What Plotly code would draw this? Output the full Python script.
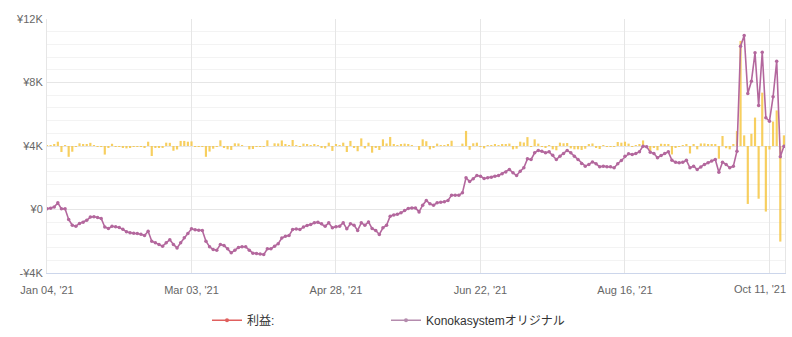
import plotly.graph_objects as go

# Cumulative profit (yen), one value per trading day
cumulative = [
    50, 80, 150, 420, 40, 50, -630, -990, -1050, -880,
    -800, -680, -480, -460, -500, -560, -1100, -1200, -1060, -1090,
    -1130, -1250, -1400, -1470, -1500, -1510, -1560, -1640, -1370, -2000,
    -2100, -2200, -2310, -2100, -1900, -2200, -2420, -2100, -1780, -1510,
    -1220, -1280, -1300, -1320, -2000, -2350, -2520, -2560, -2200, -2270,
    -2480, -2730, -2560, -2400, -2350, -2350, -2560, -2750, -2770, -2800,
    -2840, -2480, -2480, -2310, -2150, -1800, -1680, -1640, -1260, -1230,
    -1260, -1110, -1000, -950, -840, -800, -900, -1050, -840, -1150,
    -1080, -1050, -840, -1220, -900, -990, -1320, -840, -990, -780,
    -1200, -1320, -1570, -1150, -990, -420, -340, -300, -210, -60,
    60, 100, 100, -150, 270, 570, 360, 270, 420, 460,
    490, 570, 900, 900, 900, 1050, 2000, 1760, 1930, 2140,
    2100, 1950, 2000, 2030, 2100, 2140, 2250, 2370, 2520, 2310,
    2140, 2410, 2630, 3190, 3150, 3570, 3720, 3670, 3570, 3630,
    3420, 3150, 3360, 3530, 3720, 3570, 3360, 3150, 2900, 2730,
    2840, 3000, 2880, 2690, 2730, 2700, 2690, 2630, 2880, 3090,
    3360, 3510, 3460, 3520, 3640, 3990, 3960, 3610, 3530, 3260,
    3400, 3530, 3630, 3100, 2980, 2940, 2980, 3100, 2630, 2730,
    2520, 2680, 2840, 2940, 3050, 3150, 2350, 2980, 2840, 2630,
    2730, 3670, 10290, 10960, 7310, 8080, 9870, 6550, 9910, 5780,
    5560, 7100, 9340, 3320, 3990,
]

# Daily profit (yen), the bars
daily_profit = [
    50, 30, 70, 270, -380, 10, -680, -360, -60, 170,
    80, 120, 200, 20, -40, -60, -540, -100, 140, -30,
    -40, -120, -150, -70, -30, -10, -50, -80, 270, -630,
    -100, -100, -110, 210, 200, -300, -220, 320, 320, 270,
    290, -60, -20, -20, -680, -350, -170, -40, 360, -70,
    -210, -250, 170, 160, 50, 0, -210, -190, -20, -30,
    -40, 360, 0, 170, 160, 350, 120, 40, 380, 30,
    -30, 150, 110, 50, 110, 40, -100, -150, 210, -310,
    70, 30, 210, -380, 320, -90, -330, 480, -150, 210,
    -420, -120, -250, 420, 160, 570, 80, 40, 90, 150,
    120, 40, 0, -250, 420, 300, -210, -90, 150, 40,
    30, 80, 330, 0, 0, 150, 950, -240, 170, 210,
    -40, -150, 50, 30, 70, 40, 110, 120, 150, -210,
    -170, 270, 220, 560, -40, 420, 150, -50, -100, 60,
    -210, -270, 210, 170, 190, -150, -210, -210, -250, -170,
    110, 160, -120, -190, 40, -30, -10, -60, 250, 210,
    270, 150, -50, 60, 120, 350, -30, -350, -80, -270,
    140, 130, 100, -530, -120, -40, 40, 120, -470, 100,
    -210, 160, 160, 100, 110, 100, -800, 630, -140, -210,
    100, 940, 6620, 670, -3650, 770, 1790, -3320, 3360, -4130,
    -220, 1540, 2240, -6020, 670,
]

day_index = list(range(len(cumulative)))

x_tick_index = [0, 40, 80, 120, 160, 200]
x_tick_labels = ["Jan 04, '21", "Mar 03, '21", "Apr 28, '21",
                 "Jun 22, '21", "Aug 16, '21", "Oct 11, '21"]

y_tick_values = [-4000, 0, 4000, 8000, 12000]
y_tick_labels = ["-¥4K", "¥0", "¥4K", "¥8K", "¥12K"]

legend_profit = "利益:"
legend_system = "Konokasystemオリジナル"

FONT = "Liberation Sans, Arial, Noto Sans CJK JP, sans-serif"
BAR_COLOR = "#f6c744"
LINE_COLOR = "#b3679d"

# the last date label is justified to stay inside the chart, as in the source
axis_tick_labels = x_tick_labels[:-1] + [""]

fig = go.Figure()

fig.add_trace(go.Bar(
    x=day_index, y=daily_profit, base=4000,
    marker=dict(color=BAR_COLOR, line=dict(width=0)),
    opacity=0.85, showlegend=False, name=legend_profit,
))

fig.add_trace(go.Scatter(
    x=day_index, y=cumulative, mode="lines+markers",
    line=dict(color=LINE_COLOR, width=1.6),
    marker=dict(color=LINE_COLOR, size=3.5),
    showlegend=False, name=legend_system,
))

# legend proxies
fig.add_trace(go.Scatter(
    x=[None], y=[None], mode="lines+markers", name=legend_profit,
    line=dict(color="#e0605e", width=1.5), marker=dict(color="#e0605e", size=4),
))
fig.add_trace(go.Scatter(
    x=[None], y=[None], mode="lines+markers", name=legend_system,
    line=dict(color="#b58cae", width=1.5), marker=dict(color="#b58cae", size=4),
))

fig.add_annotation(
    x=x_tick_index[-1], xref="x", y=0, yref="paper",
    text=x_tick_labels[-1], showarrow=False,
    xanchor="center", yanchor="top", xshift=-9, yshift=-8,
    font=dict(family=FONT, size=11, color="#666666"),
)

fig.update_layout(
    width=792, height=337,
    margin=dict(l=47, r=7, t=19, b=64, autoexpand=False),
    paper_bgcolor="white", plot_bgcolor="white",
    font=dict(family=FONT, size=11, color="#666666"),
    bargap=0.4,
    showlegend=True,
    legend=dict(
        orientation="h", x=0.2168, xanchor="left",
        yref="container", y=0.05, yanchor="middle",
        font=dict(family=FONT, size=12, color="#333333"),
        entrywidth=134, entrywidthmode="pixels", itemwidth=30,
    ),
    xaxis=dict(
        range=[0, 204.3], tickmode="array", tickvals=x_tick_index,
        ticktext=axis_tick_labels, showgrid=True, gridcolor="#e6e6e6",
        zeroline=False, showline=True, linecolor="#ccd6eb", linewidth=1,
        ticks="", ticklabelstandoff=7, ticklabeloverflow="allow",
        automargin=False, tickfont=dict(size=11, color="#666666"),
    ),
    yaxis=dict(
        range=[-4000, 12000], tickmode="array", tickvals=y_tick_values,
        ticktext=y_tick_labels, showgrid=True, gridcolor="#e6e6e6",
        zeroline=False, showline=True, mirror=True, linecolor="#e6e6e6",
        ticks="", ticklabelstandoff=1, automargin=False,
        minor=dict(dtick=800, tick0=-4000, showgrid=True, gridcolor="#f3f3f3"),
        tickfont=dict(size=11, color="#666666"),
    ),
)

fig.write_html("out.html")
